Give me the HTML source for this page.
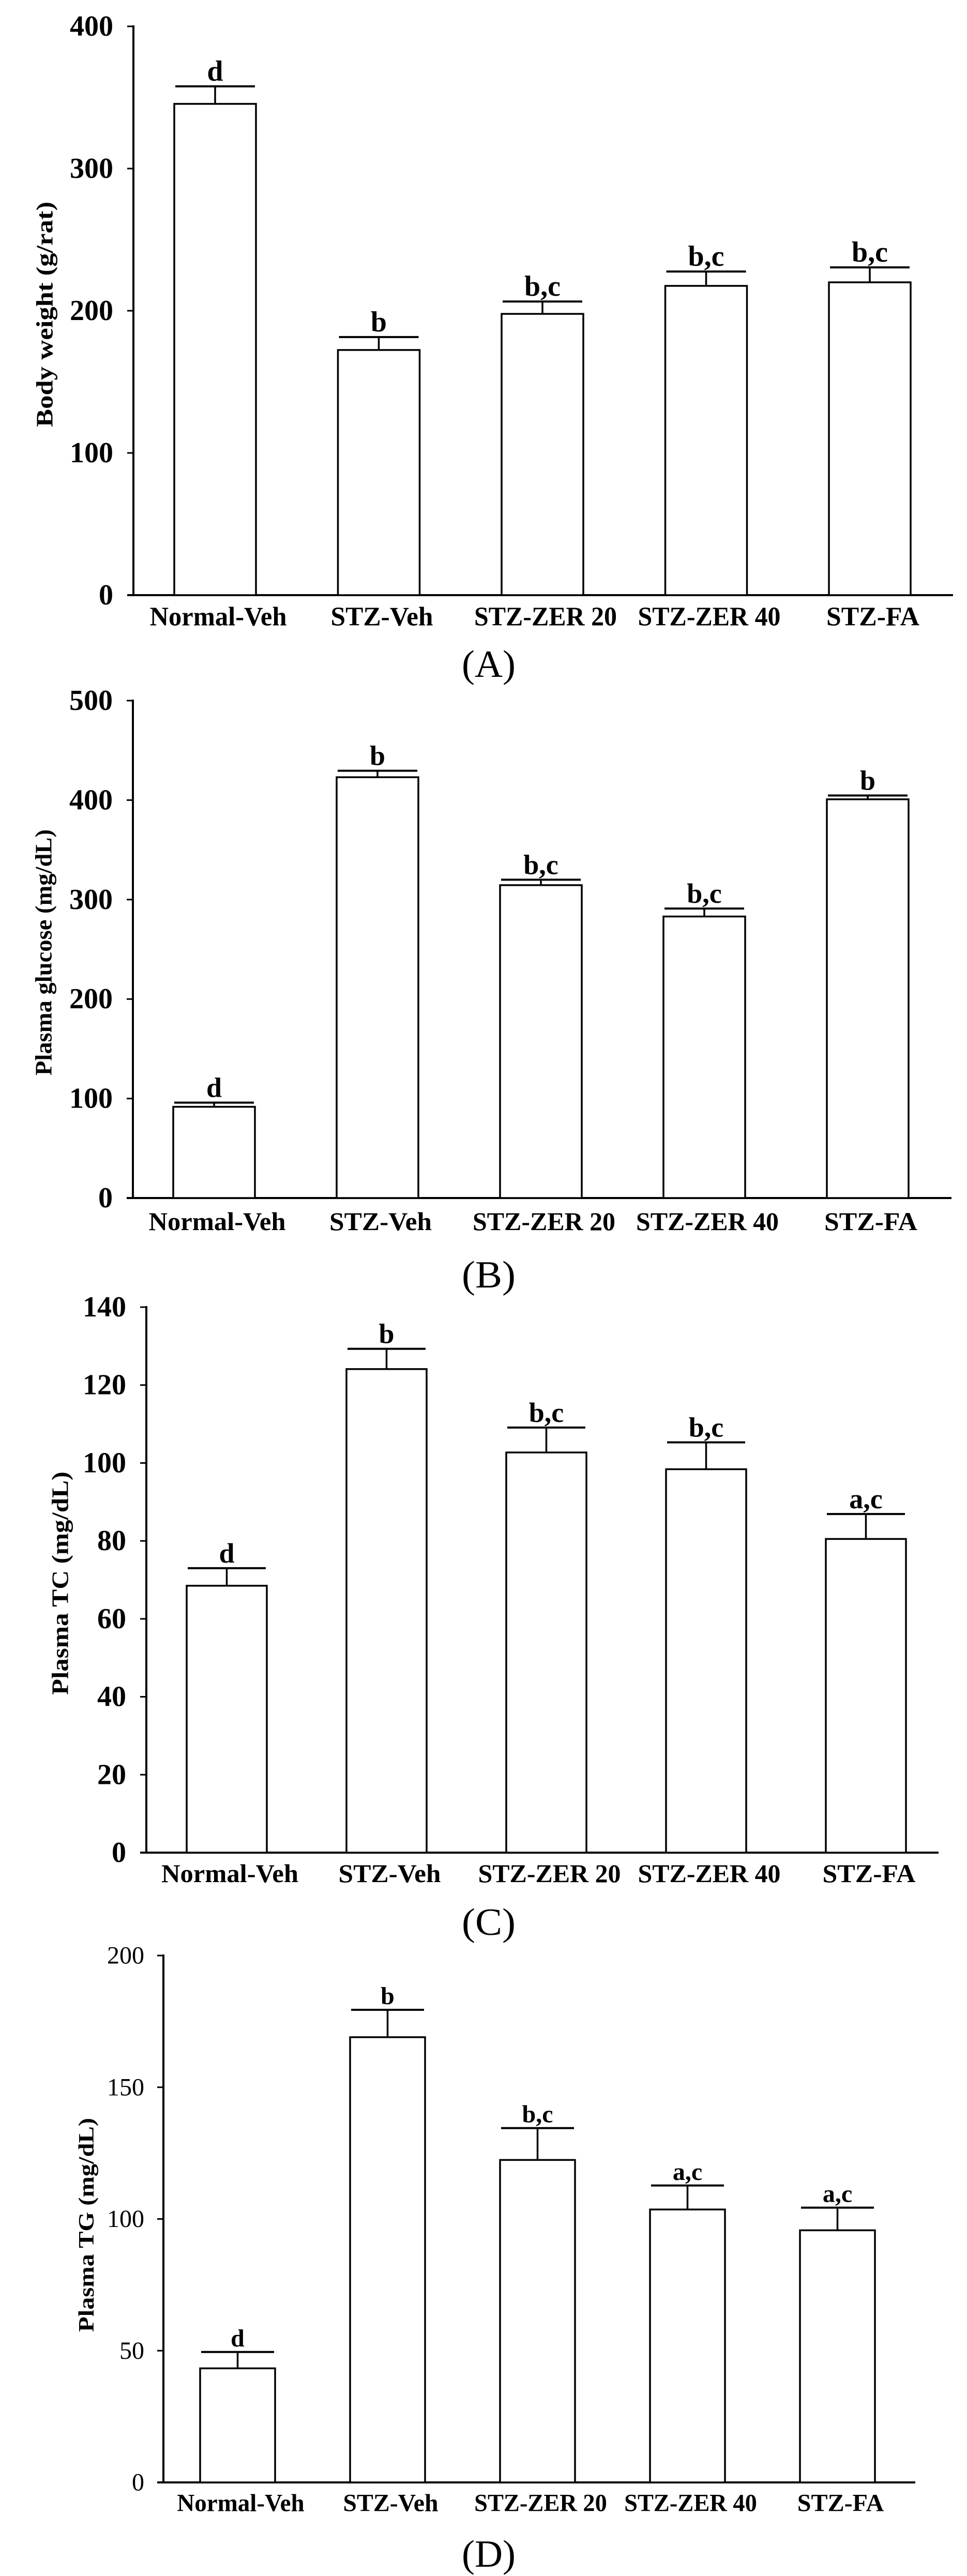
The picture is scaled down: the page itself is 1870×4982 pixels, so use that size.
<!DOCTYPE html>
<html><head><meta charset="utf-8"><style>
html,body{margin:0;padding:0;background:#fff}
svg{display:block}
text{font-family:"Liberation Serif","DejaVu Serif",serif;fill:#000}
</style></head><body>
<svg id="fig" width="1870" height="4982" viewBox="0 0 1870 4982" xmlns="http://www.w3.org/2000/svg"></svg>
<script>
const categories = ["Normal-Veh","STZ-Veh","STZ-ZER 20","STZ-ZER 40","STZ-FA"];
const aMeans = [345.5,172.4,197.8,217.5,220];
const aErrs = [12.3,9.1,8.7,10.1,10.5];
const aLetters = ["d","b","b,c","b,c","b,c"];
const aTicks = [0,100,200,300,400];
const bMeans = [91.7,423,314.5,283,400.8];
const bErrs = [4.2,6.5,5.5,8,3.8];
const bLetters = ["d","b","b,c","b,c","b"];
const bTicks = [0,100,200,300,400,500];
const cMeans = [68.5,124.1,102.7,98.4,80.5];
const cErrs = [4.5,5.2,6.4,6.9,6.4];
const cLetters = ["d","b","b,c","b,c","a,c"];
const cTicks = [0,20,40,60,80,100,120,140];
const dMeans = [43.3,169,122.4,103.6,95.7];
const dErrs = [6.2,10.4,12.1,9.1,8.6];
const dLetters = ["d","b","b,c","a,c","a,c"];
const dTicks = [0,50,100,150,200];
const labelWidths = [265,198,276,276,180];

const NS = "http://www.w3.org/2000/svg";
const svg = document.getElementById("fig");
function mk(tag, attrs, parent){
  const e = document.createElementNS(NS, tag);
  for (const k in attrs) e.setAttribute(k, attrs[k]);
  (parent||svg).appendChild(e);
  return e;
}
function panel(p){
  const g = mk("g", {});
  
  
  const ymax = p.ticks[p.ticks.length-1];
  const yS = v => p.y0 - (v/ymax)*(p.y0 - p.yTop);
  const xS = i => p.left0 + i*p.step;
  const ya = mk("line", {x1:p.ax, y1:p.yTop-2, x2:p.ax, y2:p.y0+2, stroke:"#000","stroke-width":4}, g);
  
  
  const xa = mk("line", {x1:p.ax-12, y1:p.y0, x2:p.axEnd, y2:p.y0, stroke:"#000","stroke-width":4}, g);
  
  
  p.ticks.forEach(t => {
    const y = yS(t);
    const tk = mk("line", {x1:p.ax-12, y1:y, x2:p.ax, y2:y, stroke:"#000","stroke-width":3}, g);
    
    
    const tl = mk("text", {x:p.ax-p.tickOff, y:y, "text-anchor":"end", "dominant-baseline":"central", "font-size":p.tickFs, "font-weight":p.tickWeight}, g);
    tl.textContent = t;
    
    
  });
  categories.forEach((c, i) => {
    const x = xS(i), m = p.means[i], e = p.errs[i];
    const top = yS(m), et = yS(m + e), cx = x + p.bw/2;
    const bar = mk("rect", {x:x, y:top, width:p.bw, height:p.y0-top, fill:"#fff", stroke:"#000", "stroke-width":3.5}, g);
    
    
    const ev = mk("line", {x1:cx, y1:top, x2:cx, y2:et, stroke:"#000","stroke-width":3.5}, g);
    
    
    const cap = mk("line", {x1:x+2, y1:et, x2:x+p.bw-2, y2:et, stroke:"#000","stroke-width":4}, g);
    
    
    const lt = mk("text", {x:cx, y:et-11, "text-anchor":"middle", "font-size":p.letFs, "font-weight":"bold"}, g);
    lt.textContent = p.letters[i];
    
    
    const xl = mk("text", {x:cx+6, y:p.y0+p.labOff, "text-anchor":"middle", "dominant-baseline":"central", "font-size":p.labFs, "font-weight":"bold", textLength:labelWidths[i]*p.labScale, lengthAdjust:"spacingAndGlyphs"}, g);
    xl.textContent = c;
    
    
  });
  const tt = mk("text", {x:0, y:0, "text-anchor":"middle", "dominant-baseline":"central", "font-size":p.titleFs, "font-weight":"bold", textLength:p.titleLen, lengthAdjust:"spacingAndGlyphs", transform:"translate("+p.titleX+","+p.titleY+") rotate(-90)"}, g);
  tt.textContent = p.title;
  
  
  const pl = mk("text", {x:p.tagX, y:p.tagY, "text-anchor":"middle", "dominant-baseline":"central", "font-size":74, textLength:104, lengthAdjust:"spacingAndGlyphs"}, g);
  pl.textContent = p.tag;
  
  
}
panel({id:"panel-a", means:aMeans, errs:aErrs, letters:aLetters, ticks:aTicks,
  ax:258, axEnd:1843, y0:1151, yTop:51, left0:337, step:316.5, bw:158,
  tickOff:39, tickFs:56, tickWeight:"bold", letFs:56, labFs:52, labOff:42, labScale:1,
  title:"Body weight (g/rat)", titleX:86, titleY:608, titleFs:46, titleLen:436, tag:"(A)", tagX:945, tagY:1285});
panel({id:"panel-b", means:bMeans, errs:bErrs, letters:bLetters, ticks:bTicks,
  ax:257, axEnd:1840, y0:2317, yTop:1355, left0:335, step:316, bw:158,
  tickOff:39, tickFs:56, tickWeight:"bold", letFs:54, labFs:50, labOff:45, labScale:1,
  title:"Plasma glucose (mg/dL)", titleX:84, titleY:1842, titleFs:46, titleLen:476, tag:"(B)", tagX:945, tagY:2466});
panel({id:"panel-c", means:cMeans, errs:cErrs, letters:cLetters, ticks:cTicks,
  ax:283, axEnd:1815, y0:3583, yTop:2528, left0:361, step:309, bw:155,
  tickOff:39, tickFs:56, tickWeight:"bold", letFs:54, labFs:50, labOff:40, labScale:1,
  title:"Plasma TC (mg/dL)", titleX:116, titleY:3062, titleFs:46, titleLen:432, tag:"(C)", tagX:945, tagY:3718});
panel({id:"panel-d", means:dMeans, errs:dErrs, letters:dLetters, ticks:dTicks,
  ax:316, axEnd:1770, y0:4801, yTop:3782, left0:387, step:290, bw:145,
  tickOff:37, tickFs:48, tickWeight:"normal", letFs:48, labFs:48, labOff:40, labScale:0.93,
  title:"Plasma TG (mg/dL)", titleX:168, titleY:4303, titleFs:42, titleLen:414, tag:"(D)", tagX:945, tagY:4940});
</script>
</body></html>
